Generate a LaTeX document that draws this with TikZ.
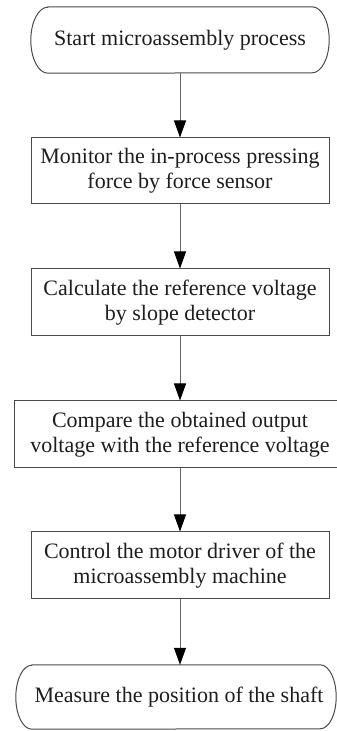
\documentclass[tikz,border=0pt]{standalone}
\usepackage{fontspec}
\setmainfont{Liberation Serif}
\usetikzlibrary{arrows.meta}
\definecolor{linegray}{HTML}{4A4A4A}
\definecolor{txt}{HTML}{1E1E1E}
\tikzset{
  every node/.style={font=\fontsize{22}{25}\selectfont, text=txt, inner sep=0pt, align=center},
  procbox/.style={draw=linegray, line width=1pt, minimum width=298pt, minimum height=67pt},
  termnode/.style={minimum height=66pt},
  termline/.style={draw=linegray, line width=1pt},
  arr/.style={draw=linegray!85, line width=1pt, -{Triangle[length=17pt,width=12pt,fill=black,color=black]}}
}
\begin{document}
\begin{tikzpicture}
\clip (0,0) rectangle (337pt,731pt);
\fill[white] (0,0) rectangle (337pt,731pt);

\node[termnode, minimum width=298pt] (s) at (180pt,691pt) {Start microassembly process};
\draw[termline] ([xshift=17pt]s.north west) -- ([xshift=-17pt]s.north east)
  arc[start angle=90,end angle=-90,x radius=17pt,y radius=33pt]
  -- ([xshift=17pt]s.south west)
  arc[start angle=270,end angle=90,x radius=17pt,y radius=33pt] -- cycle;

\node[procbox, minimum height=66pt] (b1) at (180pt,560pt) {Monitor the in-process pressing\\force by force sensor};
\node[procbox] (b2) at (180pt,428.5pt) {Calculate the reference voltage\\by slope detector};
\node[procbox, minimum width=332pt] (b3) at (180pt,296.5pt) {Compare the obtained output\\voltage with the reference voltage};
\node[procbox] (b4) at (180pt,165.5pt) {Control the motor driver of the\\microassembly machine};

\node[termnode, minimum width=320pt, minimum height=64pt] (e) at (176pt,34pt) {\hspace*{6pt}Measure the position of the shaft};
\draw[termline] ([xshift=16pt]e.north west) -- ([xshift=-16pt]e.north east)
  arc[start angle=90,end angle=-90,x radius=16pt,y radius=32pt]
  -- ([xshift=16pt]e.south west)
  arc[start angle=270,end angle=90,x radius=16pt,y radius=32pt] -- cycle;

\draw[arr] (s.south) -- (b1.north);
\draw[arr] (b1.south) -- (b2.north);
\draw[arr] (b2.south) -- (b3.north);
\draw[arr] (b3.south) -- (b4.north);
\draw[arr] (b4.south) -- (b4.south |- e.north);
\end{tikzpicture}
\end{document}
